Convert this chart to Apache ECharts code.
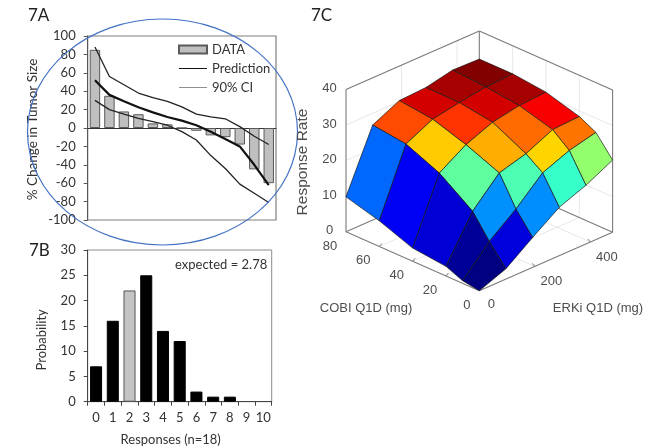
<!DOCTYPE html>
<html><head><meta charset="utf-8">
<style>html,body{margin:0;padding:0;background:#fff}#c{width:661px;height:448px}</style>
<script src="https://cdn.jsdelivr.net/npm/echarts@6/dist/echarts.min.js"></script>
</head><body><div id="c"></div>
<script>
// 7A
const tumorCategories = ['1','2','3','4','5','6','7','8','9','10','11','12','13'];
const tumorData = [85,35,18,15,5,4,0,-3,-8,-10,-18,-45,-60];
const tumorPrediction = [52,36,29,22.5,17,12,8,3,-4,-12,-20,-40,-62];
const tumorUpper = [88,56,47,38,33,29,23,15,12,10,1.5,-9,-18];
const tumorLower = [30,20,15,10.5,7,3,-4,-13,-30,-44,-61,-71,-81];
// 7B
const responseCategories = ['0','1','2','3','4','5','6','7','8','9','10'];
const responseProbability = [7,16,22,25,14,12,2,1,1,0,0];
const highlightedResponse = 2;
// 7C
const cobiDoses = [0,10,20,40,60,80];
const erkiDoses = [0,96,192,288,384,480];
const rateCobi0  = [0,2.9,8.4,13.6,16.5,20.3];
const rateCobi10 = [0.75,8.5,14.3,21.2,24.2,26];
const rateCobi20 = [2.7,14.9,22.4,24.5,28,28.4];
const rateCobi40 = [3.7,21.5,26.2,29.2,30.6,31.1];
const rateCobi60 = [7.2,25.5,29.2,30.6,31.7,32.1];
const rateCobi80 = [9.8,26.7,30.3,30.7,32.3,32.1];
const rateTicks = [0,10,20,30,40];
const cobiTicks = [0,20,40,60,80];
const erkiTicks = [0,200,400];

const rates = [rateCobi0,rateCobi10,rateCobi20,rateCobi40,rateCobi60,rateCobi80];
const cobiMax = 80, erkiMax = 480, rateMax = 40, colorMax = 31.8;

// oblique projection of the 3D axes
function project(cobi, erki, rate){
  const a = cobi/cobiMax, b = erki/erkiMax, c = rate/rateMax;
  return [479.3 + 133.3*(b-a), 290.7 - 59*a - 58.4*b - 142.3*c];
}
function jet(t){
  t = Math.max(0,Math.min(1,t));
  const f = v => Math.round(255*Math.max(0,Math.min(1,1.5-Math.abs(4*t-v))));
  return `rgb(${f(3)},${f(2)},${f(1)})`;
}
const cells = [];
for(let i=0;i<cobiDoses.length-1;i++) for(let j=0;j<erkiDoses.length-1;j++) cells.push([i,j]);
cells.sort((p,q)=>(q[0]+q[1])-(p[0]+p[1]));

// box and wall grid segments, in axis units [cobi,erki,rate]
const boxLines = [
 [[80,0,0],[0,0,0]],[[0,0,0],[0,480,0]],[[80,0,0],[80,480,0]],[[0,480,0],[80,480,0]],
 [[80,0,0],[80,0,40]],[[0,480,0],[0,480,40]],[[80,480,0],[80,480,40]],
 [[80,0,40],[80,480,40]],[[0,480,40],[80,480,40]]
];
const gridLines = [];
cobiTicks.slice(1,4).forEach(v=>{gridLines.push([[v,480,0],[v,480,40]]);gridLines.push([[v,0,0],[v,480,0]]);});
erkiTicks.slice(1).forEach(v=>{gridLines.push([[80,v,0],[80,v,40]]);gridLines.push([[0,v,0],[80,v,0]]);});
rateTicks.slice(1,4).forEach(v=>{gridLines.push([[80,0,v],[80,480,v]]);gridLines.push([[0,480,v],[80,480,v]]);});

const tickMarks = [];
cobiTicks.slice(1,4).forEach(v=>tickMarks.push({p:[v,0,0],d:[2.5,-3]}));
erkiTicks.slice(1).forEach(v=>tickMarks.push({p:[0,v,0],d:[-2.5,-3]}));

function segItem(seg,color,w){
  const a=project(...seg[0]), b=project(...seg[1]);
  return {type:'line',shape:{x1:a[0],y1:a[1],x2:b[0],y2:b[1]},style:{stroke:color,lineWidth:w}};
}
const labelFont = '13px "Liberation Sans", Arial, sans-serif';
const axisText = (text,x,y)=>({type:'text',style:{text,x,y,align:'center',verticalAlign:'middle',font:labelFont,fill:'#4d4d4d'}});
const labelItems = [];
rateTicks.forEach(v=>{const p=project(80,0,v);labelItems.push(axisText(String(v),p[0]-16.5,p[1]-1));});
cobiTicks.forEach(v=>{const p=project(v,0,0);labelItems.push(axisText(String(v),p[0]-(v?16:12.5),p[1]+14.3));});
erkiTicks.forEach(v=>{const p=project(0,v,0);labelItems.push(axisText(String(v),p[0]+(v?16.5:12),p[1]+(v?15.3:13.5)));});

const titleStyle = {fontFamily:'Lato, sans-serif',fontSize:17,color:'#222',fontWeight:'normal'};
const calibri = {fontFamily:'Lato, sans-serif',fontSize:13,color:'#333'};
const legendLine = 'path://M0 0L0 0ZM0 3.5H100V6.5H0ZM0 10L0 10Z';
const legendThin = 'path://M0 0L0 0ZM0 4H100V6H0ZM0 10L0 10Z';

const chart = echarts.init(document.getElementById('c'),null,{renderer:'canvas'});
chart.setOption({
  animation:false,
  backgroundColor:'#fff',
  title:[
    {text:'7A',left:28,top:7,textStyle:titleStyle,padding:0},
    {text:'7B',left:29,top:242,textStyle:titleStyle,padding:0},
    {text:'7C',left:311,top:7,textStyle:titleStyle,padding:0}
  ],
  legend:{
    left:178,top:43,orient:'vertical',itemWidth:28,itemHeight:8,itemGap:6,padding:0,
    textStyle:{...calibri},
    data:[{name:'DATA',icon:'rect'},{name:'Prediction',icon:legendLine},{name:'90% CI',icon:legendThin}]
  },
  grid:[
    {left:87.7,top:36,width:188.3,height:184,show:true,borderColor:'#7f7f7f',borderWidth:1.2,containLabel:false},
    {left:87.7,top:250,width:184,height:151.7,show:true,borderColor:'#8c8c8c',borderWidth:1,containLabel:false}
  ],
  xAxis:[
    {type:'category',gridIndex:0,data:tumorCategories,axisLabel:{show:false},axisTick:{show:false},
     axisLine:{onZero:true,lineStyle:{color:'#333',width:1}},splitLine:{show:false}},
    {type:'category',gridIndex:1,data:responseCategories,name:'Responses (n=18)',nameLocation:'middle',nameGap:32,
     nameTextStyle:{...calibri,padding:[0,18,0,0]},
     axisLabel:{...calibri,margin:10,interval:0},axisTick:{show:true,length:4,alignWithLabel:false,lineStyle:{color:'#444'}},
     axisLine:{lineStyle:{color:'#444',width:1}},splitLine:{show:false}}
  ],
  yAxis:[
    {type:'value',gridIndex:0,min:-100,max:100,interval:20,name:'% Change in Tumor Size',nameLocation:'middle',nameGap:48,
     nameTextStyle:{...calibri,fontSize:13.5,padding:[0,3,0,0]},
     axisLabel:{...calibri,margin:12},axisTick:{show:true,length:4,lineStyle:{color:'#555'}},axisLine:{show:true,onZero:false,lineStyle:{color:'#555',width:1}},splitLine:{show:false}},
    {type:'value',gridIndex:1,min:0,max:30,interval:5,name:'Probability',nameLocation:'middle',nameGap:39,
     nameTextStyle:{...calibri,padding:[0,28,0,0]},
     axisLabel:{...calibri,margin:12},axisTick:{show:true,length:4,lineStyle:{color:'#444'}},
     axisLine:{show:true,lineStyle:{color:'#444',width:1}},splitLine:{show:false}}
  ],
  series:[
    {name:'DATA',type:'bar',xAxisIndex:0,yAxisIndex:0,data:tumorData,barWidth:'72%',
     itemStyle:{color:'#bfbfbf',borderColor:'#5a5a5a',borderWidth:1}},
    {name:'Prediction',type:'line',xAxisIndex:0,yAxisIndex:0,data:tumorPrediction,symbol:'none',z:3,
     lineStyle:{color:'#111',width:2.2},itemStyle:{color:'#111'}},
    {name:'90% CI',type:'line',xAxisIndex:0,yAxisIndex:0,data:tumorUpper,symbol:'none',z:3,
     lineStyle:{color:'#222',width:1.3},itemStyle:{color:'#222'}},
    {name:'90% CI',type:'line',xAxisIndex:0,yAxisIndex:0,data:tumorLower,symbol:'none',z:3,
     lineStyle:{color:'#222',width:1.3},itemStyle:{color:'#222'}},
    {name:'Probability',type:'bar',xAxisIndex:1,yAxisIndex:1,barWidth:'72%',
     data:responseProbability.map((v,i)=>i===highlightedResponse
       ?{value:v,itemStyle:{color:'#c4c4c4',borderColor:'#555',borderWidth:1}}
       :{value:v,itemStyle:{color:'#000',borderColor:'#000',borderWidth:v?1:0}})},
    {type:'custom',coordinateSystem:'none',silent:true,z:1,data:[0],
     renderItem(){return {type:'group',children:gridLines.map(s=>segItem(s,'#e8e8e8',1))
        .concat(boxLines.map(s=>segItem(s,'#7a7a7a',1.1)))
        .concat(tickMarks.map(t=>{const a=project(...t.p);return {type:'line',shape:{x1:a[0],y1:a[1],x2:a[0]+t.d[0],y2:a[1]+t.d[1]},style:{stroke:'#7a7a7a',lineWidth:1}};}))};}},
    {name:'Response Rate surface',type:'custom',coordinateSystem:'none',silent:true,z:2,data:cells,
     renderItem(params,api){
       const i=api.value(0), j=api.value(1);
       const corner=(a,b)=>project(cobiDoses[a],erkiDoses[b],rates[a][b]);
       return {type:'polygon',shape:{points:[corner(i,j),corner(i+1,j),corner(i+1,j+1),corner(i,j+1)]},
         style:{fill:jet(rates[i][j]/colorMax),stroke:'#1a1a1a',lineWidth:0.7,lineJoin:'round'}};
     }},
    {type:'custom',coordinateSystem:'none',silent:true,z:3,data:[0],
     renderItem(){return {type:'group',children:labelItems};}}
  ],
  graphic:[
    {type:'ellipse',shape:{cx:162.5,cy:132,rx:135,ry:113},style:{fill:'none',stroke:'#4472c4',lineWidth:1.2},z:50,silent:true},
    {type:'text',left:175,top:258,style:{text:'expected = 2.78',font:'13px Lato, sans-serif',fill:'#333'},z:50},
    {type:'text',x:303,y:162,rotation:Math.PI/2,originX:0,originY:0,style:{text:'Response Rate',align:'center',verticalAlign:'middle',font:'15.5px "Liberation Sans", Arial, sans-serif',fill:'#4d4d4d'},z:50},
    {type:'text',x:366,y:308,style:{text:'COBI Q1D (mg)',align:'center',verticalAlign:'middle',font:labelFont,fill:'#4d4d4d'},z:50},
    {type:'text',x:598,y:308,style:{text:'ERKi Q1D (mg)',align:'center',verticalAlign:'middle',font:labelFont,fill:'#4d4d4d'},z:50}
  ]
});
</script></body></html>
